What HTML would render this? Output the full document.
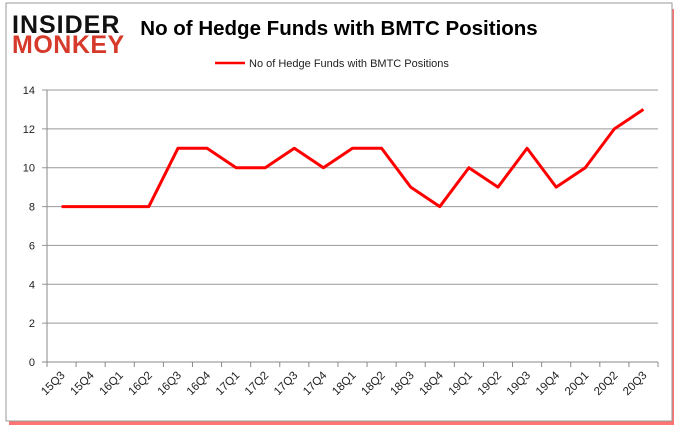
<!DOCTYPE html>
<html><head><meta charset="utf-8"><style>
body{margin:0;background:#fff;width:680px;height:433px;overflow:hidden;font-family:"Liberation Sans",sans-serif}
</style></head><body>
<svg width="680" height="433">
<rect x="9" y="9" width="665" height="416" fill="#f00" opacity="0.55"/>
<rect x="6" y="3" width="666" height="418" fill="#fff" stroke="#999"/>
<g font-family="Liberation Sans" font-weight="bold" font-size="25">
<text x="12" y="33" fill="#111" letter-spacing="1">INSIDER</text>
<text x="12" y="53" fill="#d63a2a" letter-spacing="0.5">MONKEY</text>
</g>
<text x="339" y="35" font-size="20.5" font-weight="bold" text-anchor="middle" fill="#000">No of Hedge Funds with BMTC Positions</text>
<line x1="215" y1="63" x2="245" y2="63" stroke="#f00" stroke-width="2.5"/>
<text x="249" y="67" font-size="11" fill="#222">No of Hedge Funds with BMTC Positions</text>
<g id="grid"></g><g id="axes"></g><g id="series"></g>
</svg>
<script>
const categories=["15Q3","15Q4","16Q1","16Q2","16Q3","16Q4","17Q1","17Q2","17Q3","17Q4","18Q1","18Q2","18Q3","18Q4","19Q1","19Q2","19Q3","19Q4","20Q1","20Q2","20Q3"];
const values=[8,8,8,8,11,11,10,10,11,10,11,11,9,8,10,9,11,9,10,12,13];
const yTicks=[0,2,4,6,8,10,12,14];
const X0=47,X1=658,Y0=362,Y1=90,YMAX=14;
const step=(X1-X0)/categories.length;
const xs=i=>X0+step*(i+0.5);
const ys=v=>Y0-(Y0-Y1)*v/YMAX;
const NS="http://www.w3.org/2000/svg";
const g=document.getElementById('grid'),a=document.getElementById('axes'),s=document.getElementById('series');
function mk(tag,attrs,parent){const e=document.createElementNS(NS,tag);for(const k in attrs)e.setAttribute(k,attrs[k]);parent.appendChild(e);return e;}
yTicks.forEach(t=>{
 const l=mk('line',{x1:X0-5,x2:X1,y1:ys(t),y2:ys(t),stroke:t===0?'#888':'#999','stroke-width':1},g);
 
 
 const tx=mk('text',{x:X0-12,y:ys(t)+4,'font-size':11,'text-anchor':'end',fill:'#222'},a);
 tx.textContent=t;
 
 
});
const ax=mk('line',{x1:X0,x2:X0,y1:Y1,y2:Y0+5,stroke:'#888'},a);


for(let i=0;i<=categories.length;i++){
 const t=mk('line',{x1:X0+step*i,x2:X0+step*i,y1:Y0,y2:Y0+5,stroke:'#888'},a);
 
 
}
categories.forEach((c,i)=>{
 const x=xs(i)+4,y=Y0+14;
 const t=mk('text',{x:x,y:y,'font-size':11.5,'text-anchor':'end',fill:'#222',transform:`rotate(-45 ${x} ${y})`},a);
 t.textContent=c;
 
 
});
const p=mk('polyline',{points:values.map((v,i)=>xs(i)+','+ys(v)).join(' '),fill:'none',stroke:'#f00','stroke-width':3,'stroke-linejoin':'round'},s);


</script>
</body></html>
